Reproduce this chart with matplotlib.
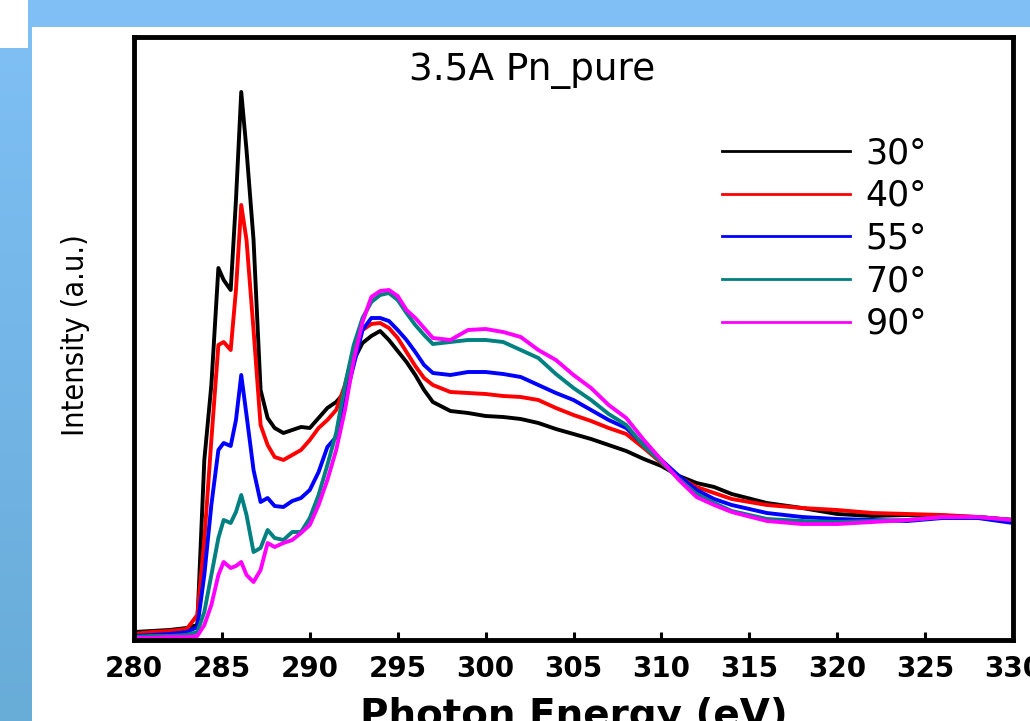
import matplotlib
matplotlib.use("Agg")
import matplotlib.pyplot as plt
import numpy as np
from matplotlib import font_manager
from matplotlib.patches import Rectangle

# photon energy grid (eV), shared by all five spectra
energy = [280, 281, 282, 283, 283.6, 284.0, 284.4, 284.8, 285.1, 285.5,
          285.8, 286.1, 286.4, 286.8, 287.2, 287.6, 288.0, 288.5, 289.0, 289.5,
          290.0, 290.5, 291.0, 291.5, 292.0, 292.5, 293.0, 293.5, 294.0, 294.5,
          295.0, 295.5, 296.0, 296.5, 297.0, 298, 299, 300, 301, 302,
          303, 304, 305, 306, 307, 308, 309, 310, 311, 312,
          313, 314, 316, 318, 320, 322, 324, 326, 328, 330]

# intensities (a.u.)
i30 = [8, 9, 10, 12, 15, 180, 255, 372, 360, 350,
       440, 548, 490, 400, 250, 222, 212, 207, 210, 213,
       212, 222, 232, 238, 248, 280, 297, 304, 309, 300,
       289, 278, 265, 250, 238, 229, 227, 224, 223, 221,
       217, 211, 206, 201, 195, 189, 181, 174, 164, 157,
       153, 146, 137, 132, 126, 124, 125, 124, 123, 120]
i40 = [6, 8, 9, 11, 25, 100, 200, 295, 298, 290,
       350, 435, 400, 310, 215, 195, 183, 180, 185, 190,
       200, 212, 220, 230, 255, 290, 310, 316, 317, 312,
       302, 288, 274, 262, 255, 248, 247, 246, 244, 243,
       240, 232, 225, 219, 212, 206, 192, 177, 163, 153,
       147, 141, 135, 132, 130, 127, 126, 125, 123, 120]
i55 = [4, 5, 6, 8, 13, 65, 135, 190, 197, 194,
       220, 265, 225, 170, 138, 142, 134, 133, 139, 142,
       150, 168, 193, 203, 240, 275, 310, 322, 322, 319,
       310, 300, 288, 275, 267, 265, 268, 268, 266, 263,
       255, 247, 240, 230, 220, 212, 195, 180, 164, 150,
       141, 135, 127, 123, 121, 120, 119, 122, 122, 117]
i70 = [3, 4, 4, 5, 8, 28, 65, 102, 120, 117,
       128, 145, 125, 88, 92, 110, 102, 100, 108, 108,
       122, 145, 175, 207, 255, 295, 322, 338, 345, 347,
       340, 327, 315, 305, 296, 298, 300, 300, 298, 290,
       282, 266, 252, 240, 226, 215, 194, 178, 161, 146,
       137, 129, 121, 119, 118, 119, 120, 123, 123, 120]
i90 = [2, 2, 3, 3, 4, 15, 35, 65, 78, 72,
       74, 78, 65, 58, 70, 97, 93, 97, 100, 107,
       115, 135, 160, 190, 230, 280, 318, 343, 349, 350,
       344, 330, 322, 312, 302, 300, 310, 311, 308, 303,
       290, 280, 265, 252, 235, 222, 200, 180, 160, 143,
       135, 128, 119, 116, 116, 118, 120, 123, 123, 120]

labels = ["30°", "40°", "55°", "70°", "90°"]
colors = ["#000000", "#ff0000", "#0000ff", "#008080", "#ff00ff"]
xticks = list(range(280, 331, 5))

W, H = 1030, 721
fig = plt.figure(figsize=(W / 100, H / 100), dpi=100, facecolor="white")

# slide decoration: gradient strip on the left, band on top, white corner
strip = fig.add_axes([0, 0, 32 / W, 1], zorder=-3)
grad = np.linspace(0, 1, 256).reshape(-1, 1)
top_c = np.array([0x80, 0xc0, 0xf6]) / 255
bot_c = np.array([0x68, 0xac, 0xd8]) / 255
strip.imshow(top_c + (bot_c - top_c) * grad[:, :, None], aspect="auto",
             extent=[0, 1, 0, 1])
strip.axis("off")
fig.add_artist(Rectangle((0, 1 - 27 / H), 1, 27 / H, transform=fig.transFigure,
                         facecolor="#7fbff6", edgecolor="none", zorder=-2))
fig.add_artist(Rectangle((0, 1 - 48 / H), 28 / W, 48 / H, transform=fig.transFigure,
                         facecolor="white", edgecolor="none", zorder=-1))

ax = fig.add_axes([134 / W, (H - 640) / H, (1013 - 134) / W, (640 - 37) / H])
for series, lab, col in zip([i30, i40, i55, i70, i90], labels, colors):
    ax.plot(energy, series, color=col, lw=2.8, label=lab, solid_joinstyle="round")

ax.set_xlim(280, 330)
ax.set_ylim(0, 603)
ax.set_xticks(xticks)
ax.set_yticks([])
ax.tick_params(axis="x", direction="in", length=6, width=2.2, pad=11,
               labelsize=20)
for t in ax.get_xticklabels():
    t.set_fontweight("bold")
for sp in ax.spines.values():
    sp.set_linewidth(3.5)

# the y label is set in a narrow face in the original
fonts = font_manager.fontManager.ttflist
names = {f.name for f in fonts}
if "Liberation Sans Narrow" in names:
    ylab_kw = dict(family="Liberation Sans Narrow", fontsize=25)
elif any(f.name == "DejaVu Sans" and f.stretch == "condensed" for f in fonts):
    ylab_kw = dict(family="DejaVu Sans", fontstretch="condensed", fontsize=22)
else:
    ylab_kw = dict(family="DejaVu Sans", fontsize=19.5)
ax.set_ylabel("Intensity (a.u.)", va="center", rotation=90, **ylab_kw)
ax.yaxis.set_label_coords(-0.067, 0.505)

ax.set_xlabel("Photon Energy (eV)", fontsize=28, fontweight="bold", va="top")
ax.xaxis.set_label_coords(0.5, -0.094)

ax.text(0.453, 0.929, "3.5A Pn_pure", transform=ax.transAxes, fontsize=27,
        ha="center", va="baseline")

leg = ax.legend(loc="upper left", bbox_to_anchor=(722 / W, 1 - 136 / H),
                bbox_transform=fig.transFigure, frameon=False, fontsize=25,
                handlelength=3.7, handletextpad=0.43, labelspacing=0.25,
                borderpad=0, borderaxespad=0)
for ln in leg.get_lines():
    ln.set_linewidth(2.0)

fig.savefig("out.png", dpi=100, facecolor="white")
